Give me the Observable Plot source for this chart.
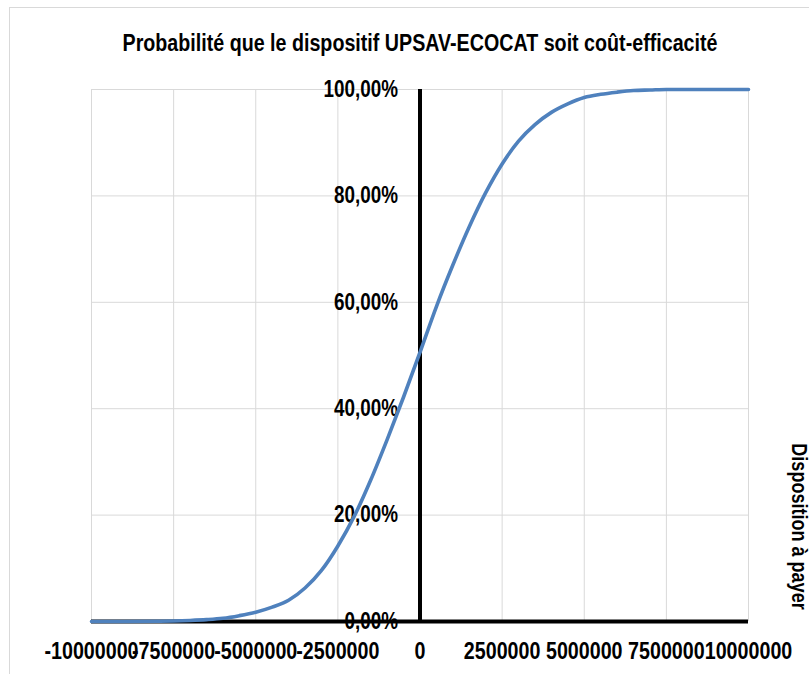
<!DOCTYPE html>
<html>
<head>
<meta charset="utf-8">
<script src="https://cdn.jsdelivr.net/npm/d3@7"></script>
<script src="https://cdn.jsdelivr.net/npm/@observablehq/plot@0.6"></script>
<style>
  html, body { margin: 0; padding: 0; background: #fff; overflow: hidden; }
  #wrap { position: relative; width: 809px; height: 674px; }
  #border { position: absolute; left: 9px; top: 7px; width: 900px; height: 800px; border: 1px solid #d9d9d9; box-sizing: border-box; }
  #chart { position: absolute; left: 0; top: 0; }
</style>
</head>
<body>
<div id="wrap"><div id="border"></div><div id="chart"></div></div>
<script>
const title = "Probabilité que le dispositif UPSAV-ECOCAT soit coût-efficacité";
const xLabel = "Disposition à payer";
const xTicks = [-10000000, -7500000, -5000000, -2500000, 0, 2500000, 5000000, 7500000, 10000000];
const yTicks = [0, 20, 40, 60, 80, 100];
const wtp = [-10000000, -9000000, -8000000, -7500000, -7000000, -6500000, -6000000, -5500000, -5000000, -4500000, -4000000, -3500000, -3000000, -2500000, -2000000, -1500000, -1000000, -500000, 0, 500000, 1000000, 1500000, 2000000, 2500000, 3000000, 3500000, 4000000, 4500000, 5000000, 5500000, 6000000, 6500000, 7000000, 7500000, 8000000, 9000000, 10000000];
const prob = [0, 0, 0.05, 0.1, 0.2, 0.35, 0.6, 1.1, 1.75, 2.7, 4.0, 6.3, 9.6, 14.2, 19.8, 26.6, 34.2, 42.2, 50.6, 59.2, 67, 74.2, 80.6, 86, 90.3, 93.4, 95.7, 97.3, 98.5, 99.1, 99.5, 99.8, 99.9, 100, 100, 100, 100];

const data = wtp.map((x, i) => ({x, y: prob[i]}));
const font = "'Liberation Sans', Arial, sans-serif";
const pct = d => d.toFixed(2).replace(".", ",") + "%";

const chart = Plot.plot({
  width: 809,
  height: 674,
  marginLeft: 91,
  marginRight: 61,
  marginTop: 89,
  marginBottom: 53,
  style: {fontFamily: font, background: "transparent", color: "#000"},
  x: {domain: [-10000000, 10000000], axis: null},
  y: {domain: [0, 100], axis: null},
  marks: [
    Plot.ruleX(xTicks, {stroke: "#d9d9d9", strokeWidth: 1}),
    Plot.ruleY(yTicks, {stroke: "#d9d9d9", strokeWidth: 1}),
    Plot.text(yTicks, {x: d => 0, y: d => d, text: pct, textAnchor: "end", lineAnchor: "middle", dx: -22, fontSize: 23, fontWeight: "bold", fill: "#000"}),
    Plot.text(xTicks, {x: d => d, frameAnchor: "bottom", textAnchor: "middle", lineAnchor: "middle", dy: 30, text: d => String(d), fontSize: 24, fontWeight: "bold", fill: "#000"}),
    Plot.ruleX([0], {stroke: "#000", strokeWidth: 4}),
    Plot.ruleY([0], {stroke: "#000", strokeWidth: 4}),
    Plot.line(data, {x: "x", y: "y", stroke: "#4f81bd", strokeWidth: 3.6, curve: "monotone-x"}),
    Plot.text([title], {frameAnchor: "top", textAnchor: "middle", lineAnchor: "middle", dy: -46, text: d => d, fontSize: 24, fontWeight: "bold", fill: "#000"}),
    Plot.text([xLabel], {frameAnchor: "right", textAnchor: "middle", lineAnchor: "middle", dx: 51, dy: 171, rotate: 90, text: d => d, fontSize: 22, fontWeight: "bold", fill: "#000"})
  ]
});
// emulate a narrow (condensed) typeface by compressing each text along its own baseline
chart.querySelectorAll("text").forEach(t => {
  const tr = t.getAttribute("transform");
  if (tr) {
    t.setAttribute("transform", tr + " scale(0.82,1)");
  } else {
    const x = +(t.getAttribute("x") || 0), y = +(t.getAttribute("y") || 0);
    t.removeAttribute("x"); t.removeAttribute("y");
    t.setAttribute("transform", `translate(${x},${y}) scale(0.82,1)`);
  }
});
document.getElementById("chart").appendChild(chart);
</script>
</body>
</html>
